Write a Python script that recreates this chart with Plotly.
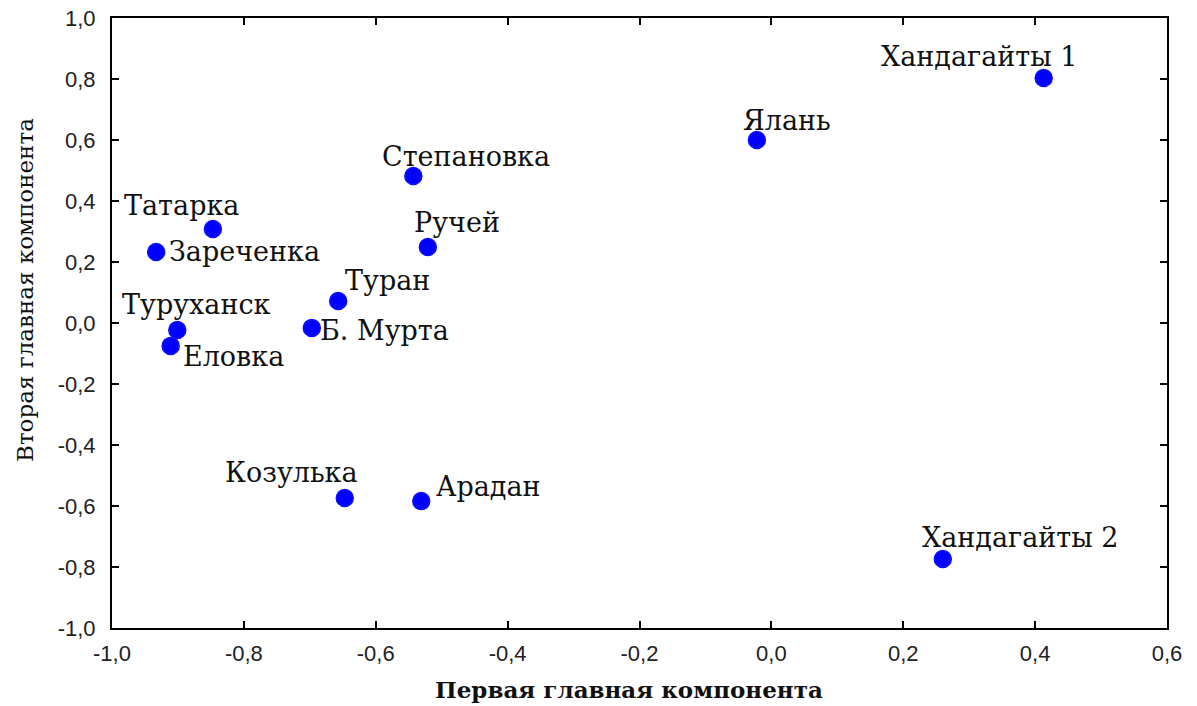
import plotly.graph_objects as go

names = ["Хандагайты 1", "Ялань", "Степановка", "Татарка", "Зареченка", "Ручей",
         "Туран", "Б. Мурта", "Туруханск", "Еловка", "Козулька", "Арадан", "Хандагайты 2"]
pc1 = [0.413, -0.022, -0.543, -0.847, -0.933, -0.521, -0.657, -0.697, -0.901, -0.911, -0.647, -0.531, 0.260]
pc2 = [0.803, 0.600, 0.482, 0.308, 0.233, 0.249, 0.072, -0.016, -0.023, -0.075, -0.574, -0.584, -0.774]
# label offsets in pixels (dx right, dy up)
label_dx = [-65, 30, 53, -31, 88, 29, 49, 73, 19, 63, -53, 67, 77]
label_dy = [22, 20, 19, 24, 0, 25, 21, -3, 26, -11, 26, 15, 22]

x_ticks = [-1.0, -0.8, -0.6, -0.4, -0.2, 0.0, 0.2, 0.4, 0.6]
x_tick_text = ["-1,0", "-0,8", "-0,6", "-0,4", "-0,2", "0,0", "0,2", "0,4", "0,6"]
y_ticks = [-1.0, -0.8, -0.6, -0.4, -0.2, 0.0, 0.2, 0.4, 0.6, 0.8, 1.0]
y_tick_text = ["-1,0", "-0,8", "-0,6", "-0,4", "-0,2", "0,0", "0,2", "0,4", "0,6", "0,8", "1,0"]

x_title = "Первая главная компонента"
y_title = "Вторая главная компонента"

SERIF = "DejaVu Serif"
SANS = "Liberation Sans"

fig = go.Figure()
fig.add_trace(go.Scatter(
    x=pc1, y=pc2, mode="markers",
    marker=dict(color="#0000FF", size=17, line=dict(color="#1010ff", width=1.5)),
    hoverinfo="skip", showlegend=False))

for n, x, y, dx, dy in zip(names, pc1, pc2, label_dx, label_dy):
    fig.add_annotation(x=x, y=y, text=n, showarrow=False, xshift=dx, yshift=dy,
                       xanchor="center", yanchor="middle",
                       font=dict(family=SERIF, size=27, color="#111"))

# axis titles placed as annotations to match the reference placement
fig.add_annotation(xref="paper", yref="paper", x=0.490, y=-0.1016, text="<b>" + x_title + "</b>",
                   showarrow=False, xanchor="center", yanchor="middle",
                   font=dict(family=SERIF, size=23, color="#111"))
fig.add_annotation(xref="paper", yref="paper", x=-0.0825, y=0.554, text=y_title, textangle=-90,
                   showarrow=False, xanchor="center", yanchor="middle",
                   font=dict(family=SERIF, size=23, color="#111"))

axis_common = dict(showline=True, linecolor="black", linewidth=2, mirror="ticks",
                   ticks="inside", ticklen=7, tickwidth=1.5, tickcolor="black",
                   showgrid=False, zeroline=False, automargin=False, ticklabeloverflow="allow",
                   tickfont=dict(family=SANS, size=22, color="#222"))

fig.update_xaxes(range=[-1.0, 0.6], tickmode="array", tickvals=x_ticks, ticktext=x_tick_text,
                 ticklabelstandoff=5, **axis_common)
fig.update_yaxes(range=[-1.0, 1.0], tickmode="array", tickvals=y_ticks, ticktext=y_tick_text,
                 ticklabelstandoff=10, **axis_common)

fig.update_layout(width=1197, height=706, margin=dict(l=112, r=30, t=18, b=78, autoexpand=False),
                  plot_bgcolor="white", paper_bgcolor="white")

fig.write_html("out.html", config={"displayModeBar": False},
               post_script="document.body.style.margin='0px';")
